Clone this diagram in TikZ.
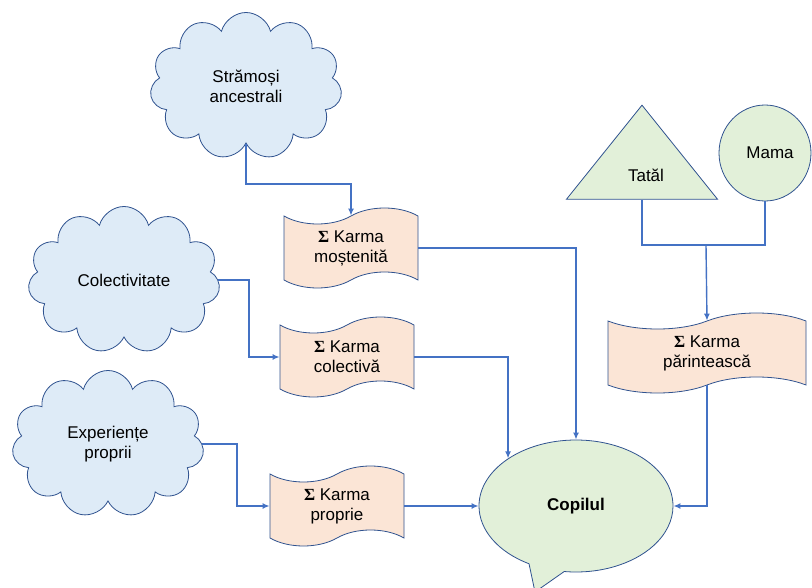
\documentclass[tikz,border=0pt]{standalone}
\usepackage{fontspec}
\setmainfont{Liberation Sans}
\newfontfamily\sigmafont{Liberation Serif}
\usetikzlibrary{shapes.symbols,shapes.geometric,shapes.callouts,arrows.meta}
\definecolor{cloudfill}{HTML}{DEEBF7}
\definecolor{tapefill}{HTML}{FBE5D6}
\definecolor{greenfill}{HTML}{E2F0D9}
\definecolor{edgeblue}{HTML}{2F528F}
\definecolor{linkblue}{HTML}{4472C4}
\newcommand{\karma}[1]{{\sigmafont\bfseries Σ} Karma\\#1}

\begin{document}
\begin{tikzpicture}[x=1pt,y=-1pt,
    every node/.style={font=\fontsize{17}{20}\selectfont, align=center},
    source/.style={cloud, cloud puffs=11, aspect=1.3, draw=edgeblue, fill=cloudfill, line width=0.8pt, minimum width=192pt, minimum height=147pt},
    karmabox/.style={tape, draw=edgeblue, fill=tapefill, line width=0.8pt, tape bend height=16pt, minimum width=134pt, minimum height=80pt},
    parent/.style={draw=edgeblue, fill=greenfill, line width=0.8pt, inner sep=0pt},
    link/.style={draw=linkblue, line width=1.4pt},
    conn/.style={link, -{Latex[length=7pt,width=6pt]}}
]
\useasboundingbox (0,0) rectangle (812,588);

% sources
\node[source] (stramosi) at (246,86)  {Strămoși\\ancestrali};
\node[source] (colect)   at (124,280) {Colectivitate};
\node[source] (exper)    at (108,444) {Experiențe\\proprii};

% karma
\node[karmabox] (mostenita) at (351,248) {\karma{moștenită}};
\node[karmabox] (colectiva) at (347,357) {\karma{colectivă}};
\node[karmabox] (proprie)   at (337,506) {\karma{proprie}};
\node[karmabox, minimum width=198pt] (parinteasca) at (707,353) {\karma{părintească}};

% parents and child
\node[parent, isosceles triangle, shape border rotate=90, isosceles triangle stretches,
      minimum width=151pt, minimum height=94pt] (tatal) at (642,163) {};
\node (tataltext) at (646,175) {Tatăl};
\node[parent, ellipse, minimum width=92pt, minimum height=96pt] (mama) at (765,153) {\hspace{10pt}Mama};
\node[parent, ellipse callout, minimum width=194pt, minimum height=132pt,
      callout absolute pointer={(535,592)}, callout pointer arc=22,
      font=\fontsize{17}{20}\selectfont\bfseries] (copil) at (576,506) {Copilul};

\coordinate (b1) at (351,184);
\coordinate (b2) at (249,318);
\coordinate (b3) at (237,475);
\coordinate (b4) at (706,245);

\draw[conn] (stramosi.south) |- (b1) -- (mostenita.north);
\draw[conn] (colect.east) -| (b2) |- (colectiva.west);
\draw[conn] (exper.east) -| (b3) |- (proprie.west);
\draw[conn] (mostenita.east) -| (copil.north);
\draw[conn] (colectiva.east) -| (copil.145);
\draw[conn] (proprie.east) -- (copil.west);
\draw[link] (tatal.south) |- (b4) -| (mama.south);
\draw[conn] (b4) -- (parinteasca.north);
\draw[conn] (parinteasca.south) |- (copil.east);
\end{tikzpicture}
\end{document}
